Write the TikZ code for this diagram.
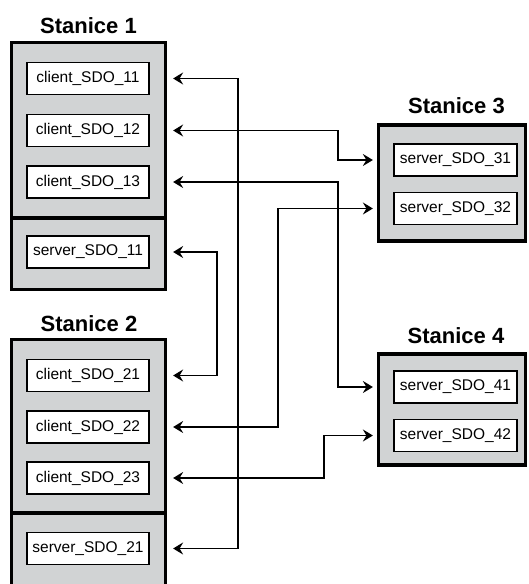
\documentclass[tikz,border=0pt]{standalone}
\usepackage{fontspec}
\setmainfont{Liberation Sans}
\usetikzlibrary{arrows.meta}
\definecolor{stagray}{HTML}{D1D3D4}
\tikzset{
  station/.style={draw, line width=3.2pt, fill=stagray, inner sep=0pt},
  sdo/.style={draw, line width=1.5pt, fill=white, minimum width=122pt, minimum height=32pt, inner sep=0pt, font=\fontsize{15.5}{18}\selectfont},
  title/.style={anchor=base, font=\fontsize{22}{26}\selectfont\bfseries},
  link/.style={line width=1.8pt, {Stealth[length=10pt,width=12pt,inset=3.5pt]}-{Stealth[length=10pt,width=12pt,inset=3.5pt]}}
}
\begin{document}
\begin{tikzpicture}[x=1pt, y=-1pt]
    \useasboundingbox (0,0) rectangle (528,584);
    \node[title] (t1) at (88.5,33) {Stanice 1};
    \node[title] (t2) at (89,331) {Stanice 2};
    \node[title] (t3) at (456.5,113) {Stanice 3};
    \node[title] (t4) at (456,343) {Stanice 4};
    \node[station, minimum width=154pt, minimum height=175.5pt] (st1) at (88.5,130.25) {};
    \node[station, minimum width=154pt, minimum height=71.5pt] (st1s) at (88.5,253.75) {};
    \node[station, minimum width=154pt, minimum height=173.5pt] (st2) at (88.5,426.25) {};
    \node[station, minimum width=154pt, minimum height=77pt] (st2s) at (88.5,551.5) {};
    \node[station, minimum width=147pt, minimum height=116pt] (st3) at (452,183) {};
    \node[station, minimum width=147pt, minimum height=111pt] (st4) at (452,409.5) {};
    \node[sdo] (c11) at (88,78.5) {client\_SDO\_11};
    \node[sdo] (c12) at (88,130.5) {client\_SDO\_12};
    \node[sdo] (c13) at (88,182) {client\_SDO\_13};
    \node[sdo] (s11) at (88,252) {server\_SDO\_11};
    \node[sdo] (c21) at (88,375.5) {client\_SDO\_21};
    \node[sdo] (c22) at (88,427) {client\_SDO\_22};
    \node[sdo] (c23) at (88,478) {client\_SDO\_23};
    \node[sdo] (s21) at (88,548.5) {server\_SDO\_21};
    \node[sdo, minimum width=123pt] (s31) at (455.5,160) {server\_SDO\_31};
    \node[sdo, minimum width=123pt] (s32) at (455.5,208.5) {server\_SDO\_32};
    \node[sdo, minimum width=123pt] (s41) at (455.5,387) {server\_SDO\_41};
    \node[sdo, minimum width=123pt] (s42) at (455.5,435.5) {server\_SDO\_42};
    \coordinate (b1) at (238,0);
    \coordinate (b2) at (217,0);
    \coordinate (b3) at (338,0);
    \coordinate (b4) at (278,0);
    \coordinate (b5) at (324,0);
    \draw[link, shorten <=6pt, shorten >=6pt] (c11.east -| st1.east) -- (c11 -| b1) -- (s21 -| b1) -- (s21.east -| st2s.east);
    \draw[link, shorten <=6pt, shorten >=6pt] (s11.east -| st1s.east) -- (s11 -| b2) -- (c21 -| b2) -- (c21.east -| st2.east);
    \draw[link, shorten <=6pt, shorten >=4pt] (c12.east -| st1.east) -- (c12 -| b3) -- (s31 -| b3) -- (s31.west -| st3.west);
    \draw[link, shorten <=6pt, shorten >=4pt] (c13.east -| st1.east) -- (c13 -| b3) -- (s41 -| b3) -- (s41.west -| st4.west);
    \draw[link, shorten <=6pt, shorten >=4pt] (c22.east -| st2.east) -- (c22 -| b4) -- (s32 -| b4) -- (s32.west -| st3.west);
    \draw[link, shorten <=6pt, shorten >=4pt] (c23.east -| st2.east) -- (c23 -| b5) -- (s42 -| b5) -- (s42.west -| st4.west);
\end{tikzpicture}
\end{document}
